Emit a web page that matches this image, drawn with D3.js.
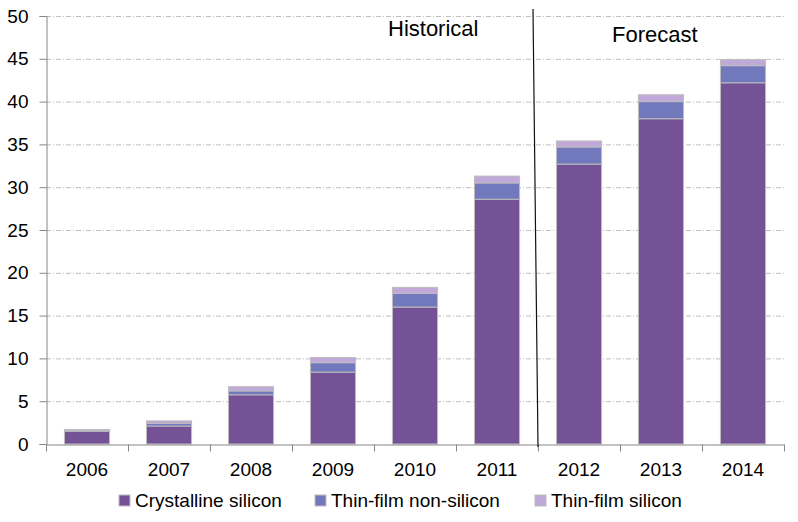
<!DOCTYPE html>
<html><head><meta charset="utf-8">
<script src="https://cdn.jsdelivr.net/npm/d3@7"></script>
<style>body{margin:0;background:#fff}svg{display:block;font-family:Arial,"Liberation Sans",sans-serif}</style>
</head><body><div id="chart"></div>
<script>
const years = ["2006","2007","2008","2009","2010","2011","2012","2013","2014"];
const crystalline = [1.5, 2.1, 5.75, 8.4, 16.0, 28.6, 32.7, 38.0, 42.2];
const thinNonSilicon = [0.05, 0.3, 0.45, 1.1, 1.6, 1.9, 2.0, 2.0, 2.0];
const thinSilicon = [0.15, 0.3, 0.5, 0.6, 0.7, 0.8, 0.7, 0.8, 0.7];
const seriesNames = ["Crystalline silicon","Thin-film non-silicon","Thin-film silicon"];
const seriesColors = ["#755296","#7178BB","#C0A8D8"];
const yTicks = [0,5,10,15,20,25,30,35,40,45,50];

const W = 798, H = 522;
const m = {left:46, right:14, top:16, bottom:78};
const FS = "19px";
const svg = d3.select("#chart").append("svg").attr("width",W).attr("height",H);

const rows = years.map((y,i)=>({year:y, s0:crystalline[i], s1:thinNonSilicon[i], s2:thinSilicon[i]}));
const stack = d3.stack().keys(["s0","s1","s2"])(rows);

const x = d3.scaleBand().domain(years).range([m.left, W-m.right]).paddingInner(0.45).paddingOuter(0.225);
const y = d3.scaleLinear().domain([0,50]).range([H-m.bottom, m.top]);

// gridlines
svg.append("g").selectAll("line").data(yTicks.filter(t=>t>0)).join("line")
  .attr("x1", m.left).attr("x2", W-m.right)
  .attr("y1", d=>y(d)+0.5).attr("y2", d=>y(d)+0.5)
  .attr("stroke","#BFBFBF").attr("stroke-width",1).attr("stroke-dasharray","5,2,1,2");

// bars
svg.append("g").selectAll("g").data(stack).join("g")
  .attr("fill",(d,i)=>seriesColors[i])
  .selectAll("rect").data(d=>d).join("rect")
  .attr("x", d=>x(d.data.year))
  .attr("width", x.bandwidth())
  .attr("y", d=>y(d[1]))
  .attr("height", d=>Math.max(0, y(d[0])-y(d[1])))
  .attr("stroke","#BDBDBD").attr("stroke-width",1);

// y axis
const yAxis = svg.append("g").attr("transform",`translate(${m.left+0.5},0)`)
  .call(d3.axisLeft(y).tickValues(yTicks).tickSize(7).tickPadding(11));
yAxis.select(".domain").attr("stroke","#868686");
yAxis.selectAll(".tick line").attr("stroke","#868686");
yAxis.selectAll("text").attr("font-size",FS).attr("fill","#000").attr("font-family","Arial, 'Liberation Sans', sans-serif");

// x axis
const xAxis = svg.append("g").attr("transform",`translate(0,${H-m.bottom+0.5})`)
  .call(d3.axisBottom(x).tickSize(0).tickPadding(18));
xAxis.select(".domain").attr("stroke","#868686");
xAxis.selectAll("text").attr("font-size",FS).attr("fill","#000").attr("font-family","Arial, 'Liberation Sans', sans-serif");
// boundary ticks
const bounds = d3.range(years.length+1).map(i=>m.left + i*(W-m.right-m.left)/years.length);
xAxis.selectAll(".bt").data(bounds).join("line").attr("class","bt")
  .attr("x1",d=>d+0.5).attr("x2",d=>d+0.5).attr("y1",0).attr("y2",7)
  .attr("stroke","#868686");

// divider line
svg.append("line").attr("x1",533).attr("y1",9).attr("x2",538).attr("y2",H-m.bottom+3)
  .attr("stroke","#111").attr("stroke-width",1.2);

svg.append("text").attr("x",388).attr("y",36).attr("font-size","22px").text("Historical");
svg.append("text").attr("x",612).attr("y",42).attr("font-size","22px").text("Forecast");

// legend
const legX = [119, 315, 535];
const lg = svg.append("g").selectAll("g").data(seriesNames).join("g")
  .attr("transform",(d,i)=>`translate(${legX[i]},495)`);
lg.append("rect").attr("width",11).attr("height",11).attr("fill",(d,i)=>seriesColors[i])
  .attr("stroke","#BDBDBD").attr("stroke-width",1);
lg.append("text").attr("x",16).attr("y",12).attr("font-size",FS).text(d=>d);
</script></body></html>
